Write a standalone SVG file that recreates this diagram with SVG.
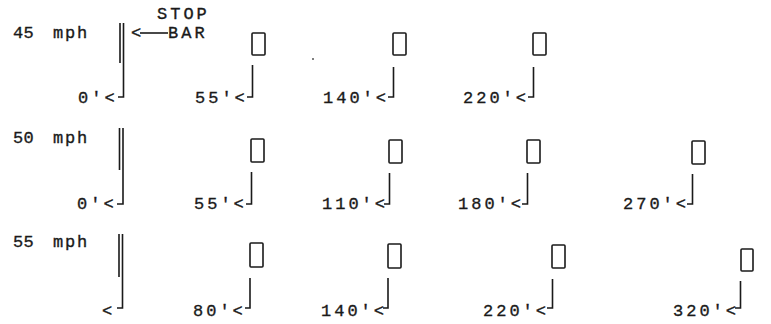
<svg xmlns="http://www.w3.org/2000/svg" width="771" height="324" viewBox="0 0 771 324">
<style>
text{font-family:"Liberation Mono","DejaVu Sans Mono",monospace;font-size:17px;fill:#1a1a1a;stroke:#1a1a1a;stroke-width:0.35}
.lbl{letter-spacing:3px}
.sp{letter-spacing:0.3px}
.mph{letter-spacing:1.8px}
.ln{stroke:#1a1a1a;stroke-width:1.6;fill:none}
.sig{stroke:#1a1a1a;stroke-width:1.6;fill:#fff}
</style>
<rect width="771" height="324" fill="#fff"/>
<g id="speeds">
<text class="sp" x="13" y="38">45</text><text class="mph" x="53" y="38">mph</text>
<text class="sp" x="13" y="143">50</text><text class="mph" x="53" y="143">mph</text>
<text class="sp" x="13" y="247">55</text><text class="mph" x="53" y="247">mph</text>
</g>
<g id="stopbar-label">
<text class="lbl" x="157" y="19">STOP</text>
<text x="131" y="38">&lt;</text>
<line class="ln" x1="140" y1="33" x2="168" y2="33"/>
<text class="lbl" x="168" y="38">BAR</text>
</g>
<g id="stopbars">
<path class="ln" d="M120,23V63M123.5,23V97H118"/>
<path class="ln" d="M119.5,128V170M123,128V204H117"/>
<path class="ln" d="M119,234V277M122.5,234V308H117"/>
</g>
<g id="signals-45">
<rect class="sig" x="252" y="33" width="13" height="22" rx="1"/>
<rect class="sig" x="393" y="33" width="13" height="22" rx="1"/>
<rect class="sig" x="533" y="33" width="13" height="22" rx="1"/>
</g>
<g id="signals-50">
<rect class="sig" x="251" y="139" width="13" height="23" rx="1"/>
<rect class="sig" x="389" y="140" width="13" height="23" rx="1"/>
<rect class="sig" x="527" y="140" width="13" height="23" rx="1"/>
<rect class="sig" x="692" y="141" width="13" height="23" rx="1"/>
</g>
<g id="signals-55">
<rect class="sig" x="250" y="243" width="13" height="24" rx="1"/>
<rect class="sig" x="388" y="244" width="13" height="24" rx="1"/>
<rect class="sig" x="552" y="245" width="13" height="23" rx="1"/>
<rect class="sig" x="741" y="249" width="12" height="22" rx="1"/>
</g>
<g id="connectors">
<path class="ln" d="M252.5,65V97H247M393.5,67V97H388M533.5,67V97H528"/>
<path class="ln" d="M251.5,172V204H246M389.5,173V204H384M527.5,173V204H522M692.5,174V204H687"/>
<path class="ln" d="M250,278V308H245M388,278V308H383M552.5,279V308H547M740.5,281V308H735"/>
</g>
<g id="labels">
<text class="lbl" x="78" y="103">0'&lt;</text>
<text class="lbl" x="195" y="103">55'&lt;</text>
<text class="lbl" x="323" y="103">140'&lt;</text>
<text class="lbl" x="463" y="103">220'&lt;</text>
<text class="lbl" x="77" y="209">0'&lt;</text>
<text class="lbl" x="194" y="209">55'&lt;</text>
<text class="lbl" x="322" y="209">110'&lt;</text>
<text class="lbl" x="458" y="209">180'&lt;</text>
<text class="lbl" x="623" y="209">270'&lt;</text>
<text class="lbl" x="102" y="316">&lt;</text>
<text class="lbl" x="193" y="316">80'&lt;</text>
<text class="lbl" x="321" y="316">140'&lt;</text>
<text class="lbl" x="483" y="316">220'&lt;</text>
<text class="lbl" x="673" y="316">320'&lt;</text>
</g>
<circle cx="313" cy="59" r="1" fill="#555"/>
</svg>
